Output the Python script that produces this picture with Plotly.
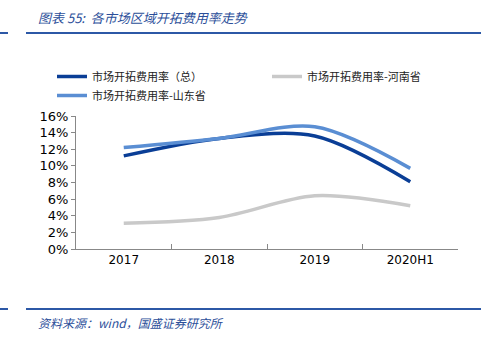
import plotly.graph_objects as go

categories = ["2017", "2018", "2019", "2020H1"]
total = [11.2, 13.3, 13.6, 8.1]
henan = [3.1, 3.8, 6.4, 5.2]
shandong = [12.2, 13.3, 14.7, 9.7]
y_ticks = [0, 2, 4, 6, 8, 10, 12, 14, 16]

names = ["市场开拓费用率（总）", "市场开拓费用率-河南省", "市场开拓费用率-山东省"]
colors = ["#0A3E96", "#C9C9C9", "#5A8ED3"]

L, R, T, B = 76, 458, 116, 249
W, H = 490, 340
def px(x):
    return (x - L) / (R - L)
def py(y):
    return (B - y) / (B - T)

fig = go.Figure()
for name, vals, c in zip(names, [total, henan, shandong], colors):
    fig.add_trace(go.Scatter(x=categories, y=vals, name=name, mode="lines",
                             line=dict(color=c, width=3.5, shape="spline", smoothing=0.9)))

cjk = "Noto Sans CJK SC"
fig.update_layout(
    width=W, height=H,
    margin=dict(l=L, r=W - R, t=T, b=H - B),
    paper_bgcolor="white", plot_bgcolor="white",
    font=dict(family="DejaVu Sans", size=12, color="#000"),
    showlegend=True,
    legend=dict(orientation="h", x=px(52), xanchor="left", y=py(62), yanchor="top",
                entrywidth=170, entrywidthmode="pixels", tracegroupgap=0,
                font=dict(family=cjk, size=11, color="#222"), itemwidth=30,
                bgcolor="rgba(0,0,0,0)"),
    xaxis=dict(type="category", range=[-0.5, 3.5], showline=True, linecolor="#888",
               linewidth=1, ticks="inside", tickson="boundaries", ticklen=5, tickcolor="#888",
               showgrid=False, tickfont=dict(size=12, color="#000"), zeroline=False),
    yaxis=dict(range=[0, 16], tickvals=y_ticks, ticktext=[f"{v}%" for v in y_ticks],
               showline=True, linecolor="#888", linewidth=1, ticks="outside", ticklen=4,
               tickcolor="#888", showgrid=False, zeroline=False,
               tickfont=dict(size=13, color="#000")),
)

line_color = "#2C58A6"
for yy in [33, 309]:
    fig.add_shape(type="line", xref="paper", yref="paper", x0=px(26), x1=px(481),
                  y0=py(yy), y1=py(yy), line=dict(color=line_color, width=2))
    fig.add_shape(type="line", xref="paper", yref="paper", x0=px(0), x1=px(8),
                  y0=py(yy), y1=py(yy), line=dict(color=line_color, width=2))

fig.add_annotation(text="图表 55:  各市场区域开拓费用率走势", xref="paper", yref="paper",
                   x=px(36), y=py(18), xanchor="left", yanchor="middle", showarrow=False,
                   font=dict(family=cjk, size=13, color="#2C4F9A", style="italic"))
fig.add_annotation(text="资料来源：wind，国盛证券研究所", xref="paper", yref="paper",
                   x=px(36), y=py(322), xanchor="left", yanchor="middle", showarrow=False,
                   font=dict(family=cjk, size=12, color="#2C4F9A", style="italic"))

fig.write_html("out.html")
